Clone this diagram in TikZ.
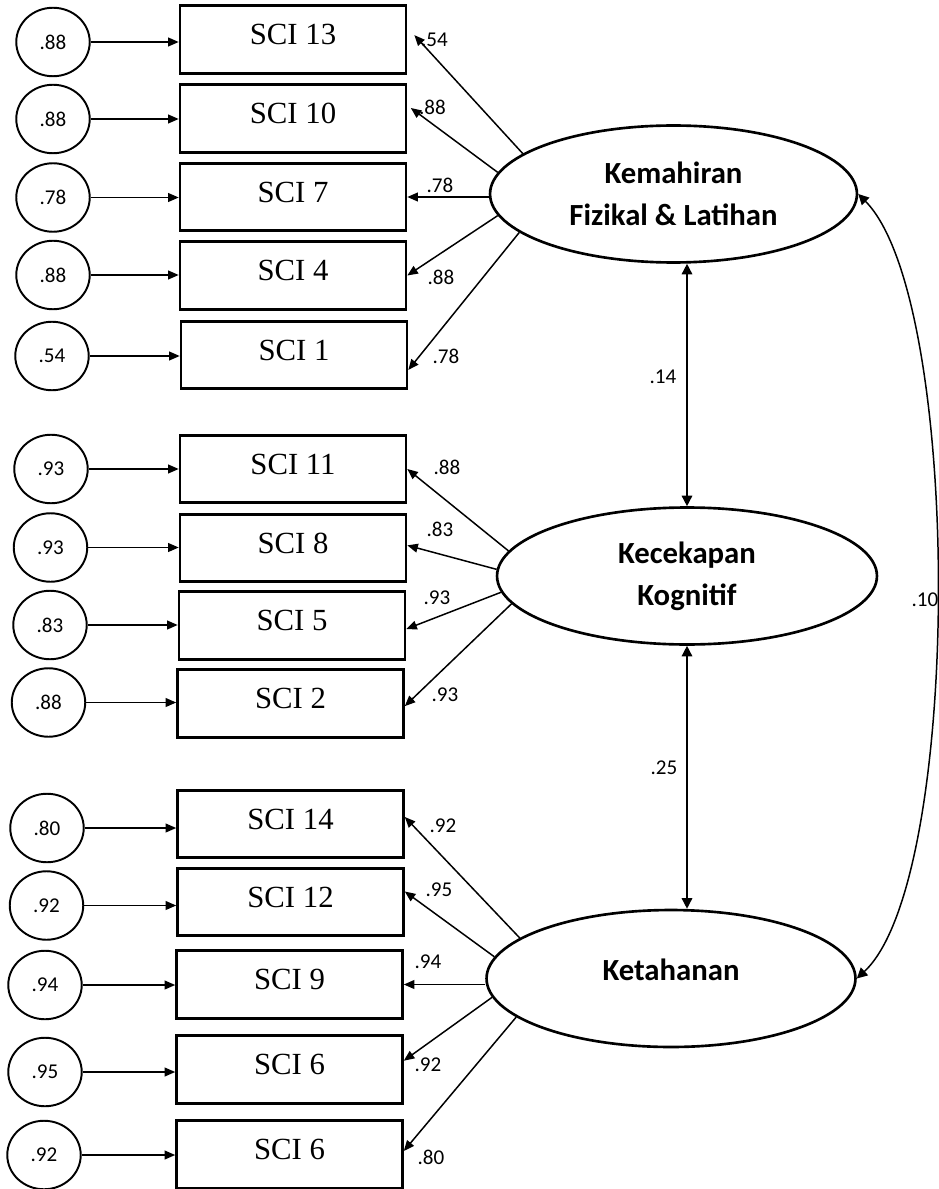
\documentclass[tikz,border=0pt]{standalone}
\usepackage{fontspec}
\setmainfont{Liberation Serif}
\newfontfamily\calfont{Carlito}
\usetikzlibrary{arrows.meta,shapes.geometric}

\begin{document}
\begin{tikzpicture}[x=0.02cm,y=-0.02cm,
  obs/.style={draw,line width=1.5pt,minimum width=4.52cm,minimum height=1.35cm,inner sep=0pt,text depth=5.7pt,font=\fontsize{17.5}{20}\selectfont},
  err/.style={draw,ellipse,line width=1.1pt,minimum width=1.47cm,minimum height=1.37cm,inner sep=0pt,font=\calfont\fontsize{12}{14}\selectfont},
  lat/.style={draw,ellipse,line width=1.5pt,minimum height=2.74cm,inner sep=0pt,align=center,font=\calfont\bfseries\fontsize{17.5}{23.8}\selectfont},
  coef/.style={inner sep=0pt,font=\calfont\fontsize{12}{14}\selectfont},
  load/.style={-{Triangle[length=6pt,width=5pt]},line width=0.85pt},
  cov/.style={{Triangle[length=6pt,width=6pt]}-{Triangle[length=6pt,width=6pt]},line width=0.85pt}]
\useasboundingbox (0,0) rectangle (938,1189);

\node[lat,minimum width=7.34cm] (kem) at (673.5,194) {Kemahiran\\Fizikal \& Latihan};
\node[lat,minimum width=7.6cm] (kec) at (687,576) {Kecekapan\\Kognitif};
\node[lat,minimum width=7.38cm,text depth=10pt] (ket) at (671,978.5) {Ketahanan};

\node[obs] (b13) at (293,39.5) {SCI 13};
\node[obs] (b10) at (293,118.5) {SCI 10};
\node[obs] (b7) at (293,197) {SCI 7};
\node[obs] (b4) at (293,275.5) {SCI 4};
\node[obs] (b1) at (294,355) {SCI 1};
\node[obs] (b11) at (293,469) {SCI 11};
\node[obs] (b8) at (293,548) {SCI 8};
\node[obs] (b5) at (292,625.5) {SCI 5};
\node[obs] (b2) at (290.5,703.5) {SCI 2};
\node[obs] (b14) at (290.5,824) {SCI 14};
\node[obs] (b12) at (290.5,902) {SCI 12};
\node[obs] (b9) at (289.5,984.5) {SCI 9};
\node[obs] (b6) at (289.5,1069.5) {SCI 6};
\node[obs] (b6b) at (289.5,1154.5) {SCI 6};

\node[err] (e13) at (53,42) {.88};
\node[err] (e10) at (53,119) {.88};
\node[err] (e7) at (53,197.5) {.78};
\node[err] (e4) at (53,275) {.88};
\node[err] (e1) at (52,356) {.54};
\node[err] (e11) at (51,469) {.93};
\node[err] (e8) at (50.5,547.5) {.93};
\node[err] (e5) at (50,625) {.83};
\node[err] (e2) at (48.5,702.5) {.88};
\node[err] (e14) at (47,828) {.80};
\node[err] (e12) at (46.5,905.5) {.92};
\node[err] (e9) at (45,985) {.94};
\node[err] (e6) at (45,1072) {.95};
\node[err] (e6b) at (44,1155) {.92};

\draw[load] (e13.east) -- (e13.east -| b13.west); \draw[load] (e10.east) -- (e10.east -| b10.west);
\draw[load] (e7.east) -- (e7.east -| b7.west); \draw[load] (e4.east) -- (e4.east -| b4.west);
\draw[load] (e1.east) -- (e1.east -| b1.west); \draw[load] (e11.east) -- (e11.east -| b11.west);
\draw[load] (e8.east) -- (e8.east -| b8.west); \draw[load] (e5.east) -- (e5.east -| b5.west);
\draw[load] (e2.east) -- (e2.east -| b2.west); \draw[load] (e14.east) -- (e14.east -| b14.west);
\draw[load] (e12.east) -- (e12.east -| b12.west); \draw[load] (e9.east) -- (e9.east -| b9.west);
\draw[load] (e6.east) -- (e6.east -| b6.west); \draw[load] (e6b.east) -- (e6b.east -| b6b.west);

\draw[load] (kem.165) -- ([xshift=4pt,yshift=2.5pt]b13.east);
\draw[load] (kem.173) -- ([xshift=2pt,yshift=6pt]b10.east);
\draw[load] (kem.west |- b7.east) -- (b7.east);
\draw[load] (kem.187) -- (b4.east);
\draw[load] (kem.194) -- ([yshift=-8.5pt]b1.east);
\draw[load] (kec.172) -- (b11.east);
\draw[load] (kec.178) -- ([yshift=1.5pt]b8.east);
\draw[load] (kec.185) -- ([yshift=-2pt]b5.east);
\draw[load] (kec.189) -- ([yshift=-1.5pt]b2.east);
\draw[load] (ket.165) -- ([yshift=4pt]b14.east);
\draw[load] (ket.173) -- ([yshift=6pt]b12.east);
\draw[load] (ket.west |- b9.east) -- (b9.east);
\draw[load] (ket.186) -- ([yshift=5pt]b6.east);
\draw[load] (ket.194) -- ([yshift=2pt]b6b.east);

\draw[cov] (kem.south -| kec.north) -- (kec.north);
\draw[cov] (kec.south) -- (ket.north -| kec.south);
\draw[cov] (kem.east) .. controls (963,300) and (963,880) .. (ket.east);

\node[coef] (v13) at (434.5,40) {.54};
\node[coef] (v10) at (432.5,107) {.88};
\node[coef] (v7) at (440,185) {.78};
\node[coef] (v4) at (441,277) {.88};
\node[coef] (v1) at (446,356) {.78};
\node[coef] (v11) at (447,467) {.88};
\node[coef] (v8) at (440,529) {.83};
\node[coef] (v5) at (437,598) {.93};
\node[coef] (v2) at (445,695) {.93};
\node[coef] (v14) at (443,826) {.92};
\node[coef] (v12) at (439,890) {.95};
\node[coef] (v9) at (428,962) {.94};
\node[coef] (v6) at (428,1065) {.92};
\node[coef] (v6b) at (431,1157) {.80};
\node[coef] (r1) at (663,377) {.14};
\node[coef] (r2) at (664,768) {.25};
\node[coef] (r3) at (925,600) {.10};
\end{tikzpicture}
\end{document}
